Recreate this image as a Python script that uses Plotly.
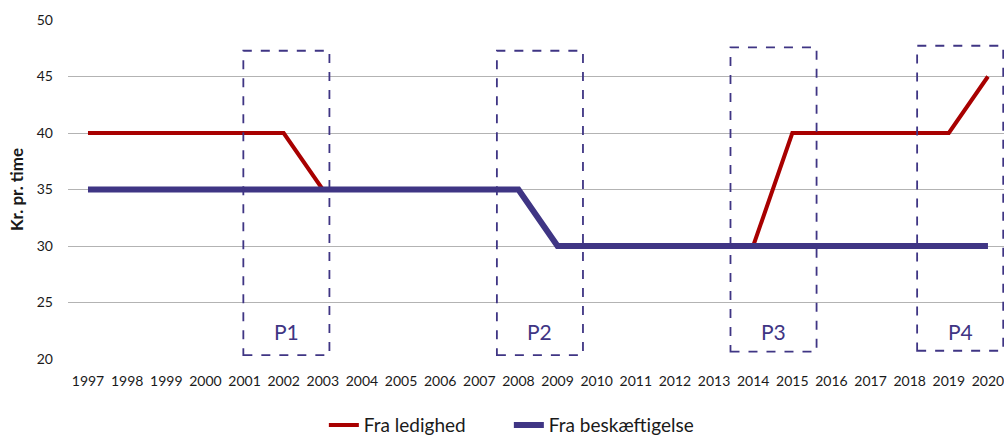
import plotly.graph_objects as go

years = [str(y) for y in range(1997, 2021)]
fra_ledighed = [40, 40, 40, 40, 40, 40, 35, 35, 35, 35, 35, 35,
                30, 30, 30, 30, 30, 30, 40, 40, 40, 40, 40, 45]
fra_beskaeftigelse = [35, 35, 35, 35, 35, 35, 35, 35, 35, 35, 35, 35,
                      30, 30, 30, 30, 30, 30, 30, 30, 30, 30, 30, 30]
period_labels = ["P1", "P2", "P3", "P4"]
period_centers = [5.07, 11.55, 17.52, 22.29]   # category index positions
period_tops = [47.28, 47.28, 47.58, 47.72]
period_bottoms = [20.35, 20.35, 20.65, 20.73]

RED = "#A80000"
BLUE = "#3F3584"
FONT = "Lato, 'Open Sans', sans-serif"

fig = go.Figure()
fig.add_trace(go.Scatter(x=list(range(len(years))), y=fra_ledighed, mode="lines",
                         name="Fra ledighed", line=dict(color=RED, width=4)))
fig.add_trace(go.Scatter(x=list(range(len(years))), y=fra_beskaeftigelse, mode="lines",
                         name="Fra beskæftigelse", line=dict(color=BLUE, width=6)))

half_w = 1.1
for lab, c, top, bot in zip(period_labels, period_centers, period_tops, period_bottoms):
    fig.add_shape(type="rect", xref="x", yref="y", x0=c - half_w, x1=c + half_w,
                  y0=bot, y1=top, line=dict(color=BLUE, width=1.8, dash="dash"),
                  fillcolor="rgba(0,0,0,0)", layer="above")
    fig.add_annotation(x=c, y=22.4, xref="x", yref="y", text=lab, showarrow=False,
                       font=dict(family=FONT, size=21, color=BLUE))

fig.update_layout(
    width=1004, height=435,
    margin=dict(l=68, r=0, t=20, b=76, autoexpand=False),
    plot_bgcolor="white", paper_bgcolor="white",
    font=dict(family=FONT, size=13, color="#1a1a1a"),
    showlegend=True,
    legend=dict(orientation="h", x=0.471, xanchor="center", y=-0.195, yanchor="middle",
                font=dict(family=FONT, size=19, color="#1a1a1a"),
                entrywidth=140, tracegroupgap=0),
)
fig.update_xaxes(range=[-0.511, 23.41], tickmode="array",
                 tickvals=list(range(len(years))), ticktext=years,
                 showgrid=False, zeroline=False, showline=False, automargin=False,
                 tickfont=dict(size=14), ticklabelstandoff=12, ticklabeloverflow="allow")
fig.update_yaxes(range=[20, 50], dtick=5, showgrid=True, gridcolor="#B3B3B3",
                 gridwidth=1, zeroline=False, showline=False, automargin=False,
                 tickfont=dict(size=14), ticklabelstandoff=14,
                 title=dict(text="<b>Kr. pr. time</b>", font=dict(size=17), standoff=8))

fig.write_html("out.html", config={"displayModeBar": False},
               post_script="document.body.style.margin='0';document.body.style.overflow='hidden';")
